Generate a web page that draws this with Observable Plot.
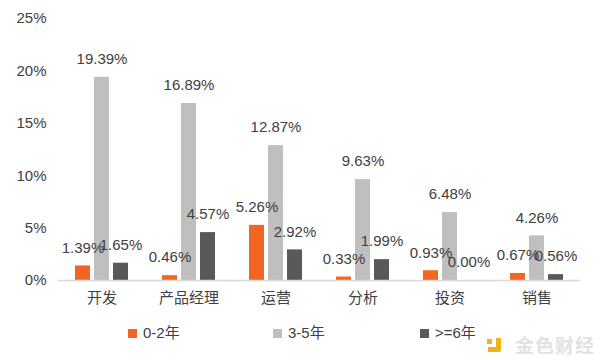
<!DOCTYPE html>
<html>
<head>
<meta charset="utf-8">
<script src="https://cdn.jsdelivr.net/npm/d3@7"></script>
<script src="https://cdn.jsdelivr.net/npm/@observablehq/plot@0.6"></script>
<style>
  html, body { margin: 0; padding: 0; background: #fff; }
  #wrap { position: relative; width: 600px; height: 360px; overflow: hidden;
          font-family: "Liberation Sans", "Noto Sans CJK SC", sans-serif; color: #404040; }
  .leg { position: absolute; top: 323px; font-size: 15px; line-height: 20px; display: flex; align-items: center; }
  .sw { display: inline-block; width: 9px; height: 9px; margin-right: 6px; }
  #wm { position: absolute; left: 488px; top: 331px; display: flex; align-items: center; }
  #wm .ic { width: 13px; height: 14px; border: 5px solid #f2b21c; border-top: none; border-left: none; border-radius: 0 0 3px 0; box-sizing: border-box; margin-right: 14px; position: relative; }
  #wm .ic::before { content: ""; position: absolute; left: -1px; top: 1px; width: 5px; height: 5px; background: #f2b21c; }
  #wm .tx { font-size: 19px; color: #e2e2e2; font-family: "Noto Sans CJK SC", sans-serif; letter-spacing: 1px; font-weight: 700; }
</style>
</head>
<body>
<div id="wrap">
  <div id="chart"></div>
  <div id="legend"></div>
  <div id="wm"><span class="ic"></span><span class="tx">金色财经</span></div>
</div>
<script>
const categories = ["开发", "产品经理", "运营", "分析", "投资", "销售"];
const series = ["0-2年", "3-5年", ">=6年"];
const values02 = [1.39, 0.46, 5.26, 0.33, 0.93, 0.67];
const values35 = [19.39, 16.89, 12.87, 9.63, 6.48, 4.26];
const values6p = [1.65, 4.57, 2.92, 1.99, 0.00, 0.56];
const yTicks = [0, 5, 10, 15, 20, 25];

const colors = ["#f26522", "#bfbfbf", "#595959"];
const seriesValues = [values02, values35, values6p];

const data = [];
categories.forEach((c, i) => {
  series.forEach((s, j) => {
    data.push({category: c, series: s, value: seriesValues[j][i]});
  });
});

const chart = Plot.plot({
  width: 600,
  height: 315,
  marginTop: 18,
  marginBottom: 35,
  marginLeft: 55,
  marginRight: 18,
  style: {fontSize: "15px", fontFamily: "'Liberation Sans', 'Noto Sans CJK SC', sans-serif", color: "#404040", background: "transparent"},
  facet: {data, x: "category"},
  fx: {domain: categories, padding: 0, label: null, tickSize: 0, tickPadding: 12},
  x: {domain: series, axis: null, paddingInner: 0.22, paddingOuter: 0.8},
  y: {domain: [0, 25], ticks: yTicks, tickFormat: d => d + "%", tickSize: 0, tickPadding: 12, label: null},
  color: {domain: series, range: colors},
  marks: [
    Plot.barY(data, {x: "series", y: "value", fill: "series"}),
    Plot.ruleY([0], {stroke: "#d9d9d9", strokeWidth: 1.5}),
    Plot.text(data, {x: "series", y: "value", text: d => d.value.toFixed(2) + "%", dy: -18, fill: "#404040", fontSize: 15})
  ]
});
document.getElementById("chart").appendChild(chart);

const legendLeft = [128, 273, 420];
const legend = document.getElementById("legend");
series.forEach((s, j) => {
  const el = document.createElement("div");
  el.className = "leg";
  el.style.left = legendLeft[j] + "px";
  el.innerHTML = `<span class="sw" style="background:${colors[j]}"></span><span>${s}</span>`;
  legend.appendChild(el);
});
</script>
</body>
</html>
